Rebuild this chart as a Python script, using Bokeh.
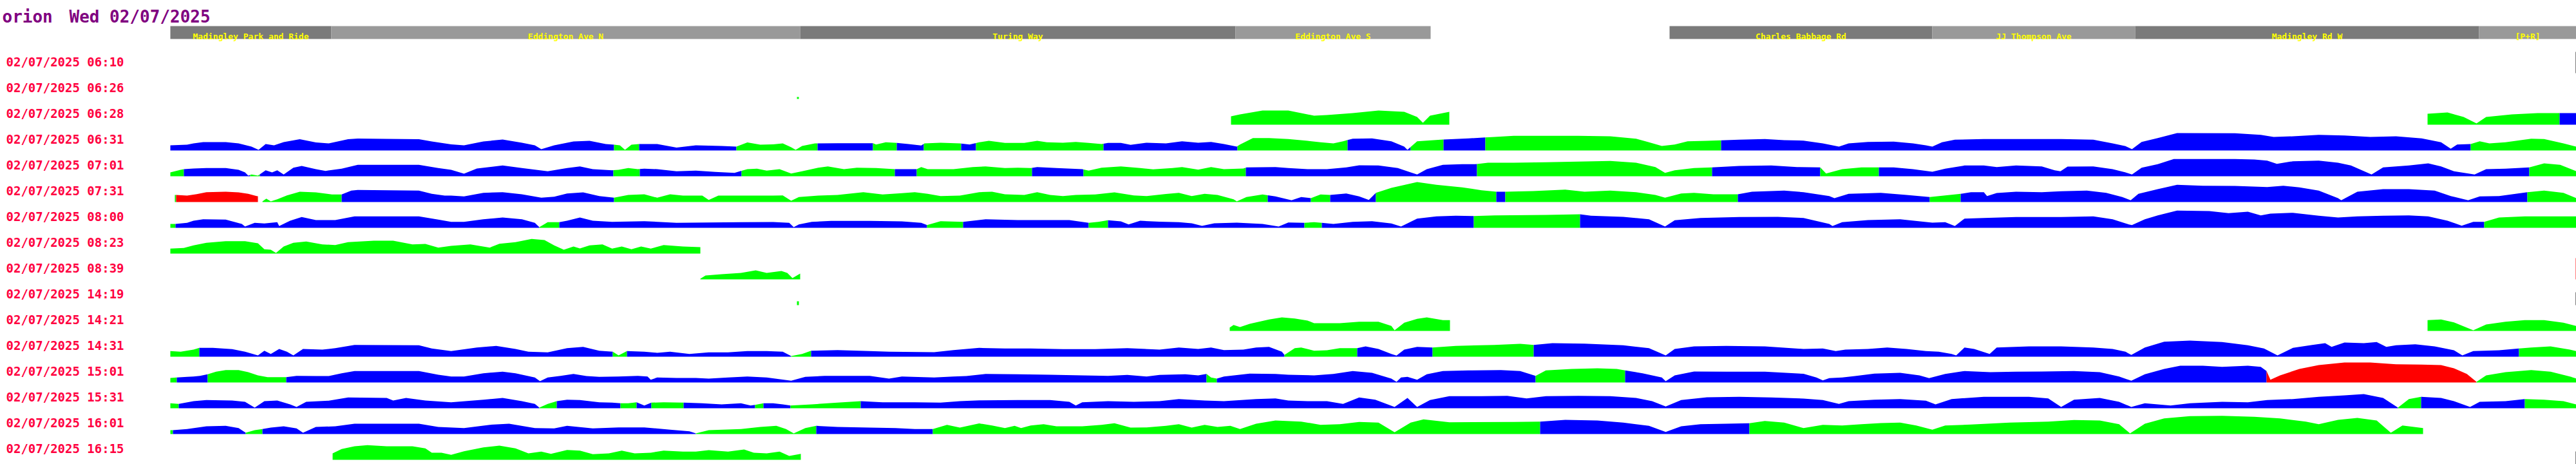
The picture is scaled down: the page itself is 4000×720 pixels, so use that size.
import numpy as np
from bokeh.plotting import figure
from bokeh.models import Range1d
from bokeh.embed import file_html
from bokeh.resources import INLINE
from bokeh.core.properties import value

TITLE_WORDS = ["orion", "Wed 02/07/2025"]

ROW_LABELS = ["02/07/2025 06:10", "02/07/2025 06:26", "02/07/2025 06:28", "02/07/2025 06:31",
              "02/07/2025 07:01", "02/07/2025 07:31", "02/07/2025 08:00", "02/07/2025 08:23",
              "02/07/2025 08:39", "02/07/2025 14:19", "02/07/2025 14:21", "02/07/2025 14:31",
              "02/07/2025 15:01", "02/07/2025 15:31", "02/07/2025 16:01", "02/07/2025 16:15"]

STOP_NAMES = ["Madingley Park and Ride", "Eddington Ave N", "Turing Way", "Eddington Ave S",
              "Charles Babbage Rd", "JJ Thompson Ave", "Madingley Rd W", "[P+R]"]
STOP_START = [264, 514, 1242, 1918, 2592, 3000, 3315, 3849]
STOP_END = [514, 1242, 1918, 2221, 3000, 3315, 3849, 4000]
STOP_SHADE = ["dark", "light", "dark", "light", "dark", "light", "dark", "light"]

# truncated marks at the right edge: (top, bottom, colour)
EDGE_MARKS = [(80, 113, "#000000"), (400, 433, "#ff0000"), (453, 473, "#000000"), (700, 720, "#000000")]

# ---- per-trip speed profiles: (route position, height) ----
PROF_0626 = [(1237, 3), (1240, 3)]
SEG_0626 = [(1237, 1240, "G")]

PROF_0628 = [(1911, 13), (1925, 16), (1960, 22), (2000, 22), (2040, 14), (2060, 15), (2100, 18),
             (2140, 22), (2180, 20), (2200, 12), (2209, 3), (2220, 14), (2250, 20),
             (3769, 17), (3800, 19), (3825, 12), (3845, 2), (3860, 12), (3900, 16), (3940, 18),
             (3974, 18), (4000, 18)]
SEG_0628 = [(1911, 2250, "G"), (3769, 3974, "G"), (3974, 4000, "B")]

PROF_0631 = [(264, 8), (290, 9), (300, 11), (315, 13), (350, 13), (370, 11), (390, 6), (401, 1), (412, 10),
             (425, 8), (440, 13), (465, 17.5), (490, 12.5), (510, 11), (540, 17.5), (555, 18.5), (600, 18),
             (650, 17.5), (670, 14), (700, 9.5), (720, 8), (750, 14), (780, 17), (810, 12), (830, 8), (840, 2),
             (860, 8), (890, 14), (915, 15), (940, 10), (953, 9), (962, 8), (970, 1), (980, 9), (993, 10),
             (1020, 10), (1050, 4.5), (1080, 8), (1120, 7), (1143, 6), (1160, 12.5), (1180, 9), (1200, 9.5),
             (1215, 11), (1228, 5), (1235, 1), (1245, 7), (1265, 11), (1300, 11.3), (1355, 11.3), (1360, 9.3),
             (1375, 12.7), (1392, 11.7), (1410, 10), (1430, 7.7), (1435, 11), (1460, 12), (1490, 11),
             (1505, 9.3), (1520, 12.7), (1535, 15), (1560, 11.7), (1590, 11.7), (1610, 15), (1625, 12.7),
             (1650, 12), (1670, 13.3), (1690, 11.7), (1710, 10), (1720, 11.7), (1740, 11.7), (1755, 8.7),
             (1780, 12), (1810, 11), (1835, 14.3), (1860, 12), (1880, 13.3), (1900, 10), (1920, 6), (1925, 9.3),
             (1945, 19.3), (1970, 19.3), (2000, 17.7), (2030, 15), (2050, 12.7), (2070, 11), (2085, 14.3),
             (2100, 18.3), (2130, 18.7), (2160, 14.3), (2180, 6), (2185, 1), (2200, 14.3), (2240, 17),
             (2280, 18.7), (2320, 21), (2350, 22.7), (2450, 22.7), (2500, 22), (2540, 18.3), (2560, 12.7),
             (2580, 7), (2600, 9.3), (2620, 14.3), (2650, 15), (2700, 16.7), (2740, 17.7), (2770, 16),
             (2800, 15.3), (2830, 11), (2855, 6), (2870, 11), (2900, 13.3), (2940, 13.7), (2970, 11), (2990, 8),
             (3000, 6), (3015, 12.7), (3035, 16.7), (3080, 17.7), (3200, 17.7), (3250, 16.7), (3280, 11),
             (3300, 6.7), (3310, 2), (3325, 13.3), (3350, 19.3), (3380, 27), (3470, 26.7), (3510, 24.3),
             (3530, 21), (3560, 22), (3600, 24.3), (3640, 23.3), (3680, 21), (3720, 22), (3760, 18.7),
             (3790, 12.7), (3805, 2.7), (3815, 9.3), (3836, 10), (3850, 14.3), (3865, 11), (3890, 12.7),
             (3930, 18.3), (3950, 17.7), (3980, 11), (4000, 6)]
SEG_0631 = [(264, 953, "B"), (953, 992, "G"), (992, 1143, "B"), (1143, 1269, "G"), (1269, 1355, "B"),
            (1355, 1392, "G"), (1392, 1434, "B"), (1434, 1492, "G"), (1492, 1515, "B"), (1515, 1713, "G"),
            (1713, 1921, "B"), (1921, 2092, "G"), (2092, 2190, "B"), (2190, 2241, "G"), (2241, 2306, "B"),
            (2306, 2672, "G"), (2672, 3836, "B"), (3836, 4000, "G")]

PROF_0701 = [(264, 6), (280, 10), (285, 11), (300, 12), (320, 12.7), (350, 12.7), (370, 10), (380, 6), (385, 1),
             (390, 2.7), (400, 1), (412, 9.3), (422, 6), (430, 9.3), (440, 2.7), (455, 13.3), (468, 16),
             (490, 11), (505, 8.3), (530, 11.7), (555, 17.7), (650, 17.7), (680, 12.7), (700, 10), (720, 4),
             (740, 12), (780, 16.7), (810, 12.7), (850, 7.7), (880, 12.7), (900, 15.3), (920, 11), (950, 9.3),
             (960, 10), (975, 12.7), (990, 11), (1000, 11.7), (1020, 11), (1050, 7.7), (1080, 8.7), (1110, 6.7),
             (1140, 5.3), (1160, 11), (1175, 11.7), (1190, 8.7), (1210, 11), (1228, 4.3), (1245, 7.7),
             (1270, 13.3), (1285, 15.3), (1310, 11), (1330, 13.3), (1360, 12.7), (1389, 11), (1423, 11),
             (1430, 14.3), (1440, 11), (1480, 11), (1510, 14.3), (1530, 15.3), (1560, 12.7), (1580, 13.3),
             (1600, 12.7), (1610, 14.3), (1640, 12.7), (1680, 11), (1690, 8.7), (1710, 13.3), (1740, 15.3),
             (1770, 12.7), (1790, 10.7), (1820, 12.7), (1835, 14.3), (1860, 10.3), (1880, 14.3), (1900, 11),
             (1930, 12), (1935, 13.7), (1980, 14.3), (2000, 12.7), (2030, 11), (2060, 11), (2090, 13.7),
             (2110, 17), (2140, 16.7), (2170, 12.7), (2190, 6), (2200, 2.7), (2215, 11), (2240, 17.7),
             (2270, 18.7), (2290, 18.7), (2310, 21), (2350, 21), (2400, 21.7), (2450, 22.7), (2500, 23.7),
             (2540, 21), (2570, 14.3), (2585, 5.3), (2600, 9.3), (2630, 12.7), (2658, 13.7), (2700, 16),
             (2750, 16.7), (2790, 14.3), (2826, 13.7), (2835, 4.3), (2860, 11), (2890, 13.7), (2940, 13.7),
             (2970, 11), (3000, 7), (3020, 11.7), (3050, 16.7), (3080, 16.7), (3100, 14.3), (3130, 16.7),
             (3170, 15.3), (3190, 9.3), (3199, 7.7), (3210, 15), (3250, 15.3), (3280, 11), (3300, 6),
             (3310, 2.7), (3325, 13.3), (3350, 18.7), (3375, 26.7), (3470, 26.7), (3500, 26), (3520, 24.3),
             (3535, 19.3), (3560, 23.3), (3600, 24.3), (3630, 21), (3650, 16.7), (3682, 2.7), (3700, 13.7),
             (3740, 16.7), (3770, 20), (3790, 15.3), (3810, 7.7), (3842, 2.7), (3860, 11), (3890, 11.7),
             (3927, 13.7), (3950, 20), (3975, 17.7), (4000, 7.7)]
SEG_0701 = [(264, 285, "G"), (285, 388, "B"), (388, 403, "G"), (403, 952, "B"), (952, 993, "G"),
            (993, 1151, "B"), (1151, 1389, "G"), (1389, 1423, "B"), (1423, 1602, "G"), (1602, 1682, "B"),
            (1682, 1934, "G"), (1934, 2293, "B"), (2293, 2658, "G"), (2658, 2826, "B"), (2826, 2917, "G"),
            (2917, 3927, "B"), (3927, 4000, "G")]

PROF_0731 = [(272, 11), (290, 10), (305, 12.3), (320, 15.3), (350, 16), (370, 15), (385, 12.7), (398, 9.3),
             (400, 9), (407, 1), (413, 5.3), (420, 1), (430, 4.3), (445, 10.3), (465, 16), (490, 15), (515, 11.7),
             (530, 11.7), (545, 17.7), (555, 18.7), (650, 17.7), (670, 12.7), (690, 10), (700, 10), (720, 8.7),
             (750, 14.3), (780, 15.3), (810, 12), (840, 6.7), (860, 8.3), (880, 13.3), (905, 15), (930, 9.3),
             (953, 6.7), (975, 11), (1000, 12), (1020, 6.7), (1040, 12), (1060, 10), (1090, 10), (1100, 3.3),
             (1115, 10), (1150, 10), (1180, 10), (1200, 10), (1215, 10.3), (1228, 2), (1240, 7.7), (1270, 10),
             (1300, 11), (1340, 15.3), (1370, 11.7), (1400, 13.7), (1420, 15.3), (1440, 12.7), (1460, 9.3),
             (1490, 10), (1520, 15.3), (1540, 16), (1560, 12), (1590, 11), (1610, 15.3), (1630, 11), (1650, 9.3),
             (1670, 11), (1700, 11.7), (1730, 15), (1760, 10.3), (1780, 9.3), (1810, 12.5), (1830, 14.3),
             (1850, 9.3), (1870, 12.7), (1890, 11), (1915, 4.3), (1920, 1), (1935, 7.7), (1960, 11.7),
             (1980, 8.7), (2005, 2.7), (2020, 7.7), (2035, 6), (2050, 11.7), (2065, 11), (2090, 13.3),
             (2110, 8.7), (2125, 3.3), (2136, 14.3), (2160, 22), (2190, 28.7), (2200, 31), (2230, 26.7),
             (2270, 22.7), (2300, 18.3), (2323, 16), (2337, 16), (2380, 17), (2430, 19.3), (2460, 16),
             (2500, 17.7), (2540, 15.3), (2570, 11), (2585, 6.7), (2610, 13.3), (2630, 14.3), (2660, 12),
             (2698, 12), (2720, 16), (2770, 17.7), (2800, 15.3), (2840, 9.3), (2848, 6), (2870, 12.7),
             (2920, 14.3), (2960, 11), (2996, 7.7), (3044, 12.7), (3060, 15.3), (3080, 15.3), (3085, 9.3),
             (3100, 14), (3130, 16), (3170, 15.3), (3200, 16.7), (3240, 17.7), (3270, 14.3), (3295, 7.7),
             (3308, 2.7), (3320, 12.7), (3350, 20), (3380, 26.7), (3420, 25.3), (3470, 25), (3520, 23.3),
             (3545, 25.3), (3570, 22.7), (3600, 17.7), (3630, 6), (3635, 2.7), (3660, 16), (3700, 20),
             (3740, 20), (3780, 17.7), (3805, 9.3), (3832, 2.7), (3850, 8.7), (3880, 9.3), (3924, 15.3),
             (3950, 17.7), (3980, 14.3), (4000, 6)]
SEG_0731 = [(271, 273, "G"), (273, 400, "R"), (407, 530, "G"), (530, 953, "B"), (953, 1968, "G"),
            (1968, 2035, "B"), (2035, 2065, "G"), (2065, 2136, "B"), (2136, 2323, "G"), (2323, 2337, "B"),
            (2337, 2698, "G"), (2698, 2996, "B"), (2996, 3044, "G"), (3044, 3924, "B"), (3924, 4000, "G")]

PROF_0800 = [(264, 6), (272, 6), (290, 7.7), (300, 11), (315, 13.3), (350, 12.7), (375, 6), (380, 2), (395, 7.7),
             (410, 6.7), (430, 8.7), (433, 2.7), (450, 11), (468, 16.7), (490, 12), (520, 12), (550, 17.7),
             (650, 17.7), (680, 12.7), (700, 9.3), (720, 9.3), (750, 13.3), (780, 16), (810, 13.3), (830, 7.7),
             (837, 1), (850, 8.7), (868, 8.7), (880, 11), (900, 16), (920, 11), (950, 9.3), (1000, 10.3),
             (1050, 7.7), (1100, 8.3), (1150, 8.7), (1200, 9), (1225, 7.7), (1232, 1), (1240, 5.3), (1260, 9.3),
             (1290, 10.7), (1350, 10.7), (1400, 10), (1430, 7.7), (1439, 4.3), (1460, 10.3), (1495, 9.3),
             (1530, 13.3), (1580, 12), (1660, 12), (1690, 7.7), (1705, 9.3), (1720, 11.7), (1740, 10),
             (1752, 5.3), (1770, 11), (1800, 9.5), (1830, 8.7), (1850, 7), (1866, 3), (1885, 7), (1920, 8),
             (1960, 6), (1985, 2), (2000, 8.3), (2025, 7.7), (2040, 8.7), (2052, 7.7), (2070, 6), (2100, 9.3),
             (2130, 10.3), (2160, 6.7), (2175, 2), (2200, 14.3), (2230, 17.7), (2260, 18.7), (2288, 18.3),
             (2320, 19.3), (2400, 20), (2453, 21), (2470, 18.7), (2520, 17), (2560, 13.3), (2585, 2),
             (2600, 11.7), (2640, 15.3), (2700, 16.7), (2760, 17), (2800, 15.3), (2840, 6), (2845, 2.7),
             (2860, 8.7), (2900, 12), (2950, 13.3), (3000, 8), (3020, 8.7), (3035, 2.7), (3050, 14.3),
             (3080, 15.3), (3130, 16.7), (3200, 16.7), (3250, 17.7), (3280, 13.3), (3305, 5.3), (3310, 4.3),
             (3330, 13.3), (3350, 19.3), (3380, 26.7), (3430, 26), (3460, 22.7), (3490, 25), (3510, 19.3),
             (3525, 22), (3560, 23.3), (3600, 18.7), (3630, 16), (3660, 17.7), (3700, 18.7), (3740, 19.3),
             (3770, 17.7), (3800, 11), (3822, 3.3), (3840, 9.3), (3857, 9.3), (3880, 16), (3920, 17.7),
             (4000, 17.7)]
SEG_0800 = [(264, 272, "G"), (272, 837, "B"), (837, 868, "G"), (868, 1439, "B"), (1439, 1495, "G"),
            (1495, 1690, "B"), (1690, 1720, "G"), (1720, 2025, "B"), (2025, 2052, "G"), (2052, 2288, "B"),
            (2288, 2453, "G"), (2453, 3857, "B"), (3857, 4000, "G")]

PROF_0823 = [(264, 7.7), (285, 8.7), (300, 12.7), (320, 16.7), (350, 19.3), (380, 19.3), (400, 16), (410, 6.7),
             (420, 6), (428, 1), (440, 11), (455, 16.7), (475, 18.7), (500, 14.3), (520, 13.3), (540, 17.7),
             (580, 20), (610, 20), (640, 14.3), (660, 15), (680, 9.3), (700, 12), (730, 14.3), (760, 9.3),
             (775, 15.3), (800, 17.7), (825, 22.7), (845, 21), (860, 12.7), (875, 6), (890, 11), (900, 8),
             (915, 12.7), (935, 14.3), (950, 7.7), (965, 11), (980, 6.7), (995, 11), (1010, 7.7), (1030, 13.3),
             (1060, 11), (1087, 10)]
SEG_0823 = [(264, 1087, "G")]

PROF_0839 = [(1087, 1), (1095, 6), (1120, 8), (1150, 10), (1173, 14), (1190, 10), (1213, 13), (1222, 10),
             (1230, 2), (1242, 9)]
SEG_0839 = [(1087, 1242, "G")]

PROF_1419 = [(1237, 6), (1240, 6)]
SEG_1419 = [(1237, 1240, "G")]

PROF_1421 = [(1909, 5.3), (1915, 9.3), (1925, 6), (1940, 11), (1970, 17.7), (1990, 21), (2010, 19.3),
             (2030, 16), (2040, 12), (2080, 12), (2110, 14.3), (2140, 14.3), (2160, 7.7), (2165, 1),
             (2180, 12.7), (2200, 18.7), (2215, 21), (2240, 16.7), (2251, 16.7),
             (3769, 16.7), (3790, 17.7), (3810, 13.3), (3840, 1), (3860, 10), (3890, 14.3), (3920, 16.7),
             (3950, 16.7), (3980, 12.7), (4000, 7.7)]
SEG_1421 = [(1909, 2251, "G"), (3769, 4000, "G")]

PROF_1431 = [(264, 8.7), (280, 7.7), (300, 11), (309, 13.7), (330, 13.7), (360, 11.7), (380, 7.7), (400, 2),
             (410, 9.3), (420, 4.3), (433, 12), (445, 7.7), (455, 2), (470, 12), (500, 11), (520, 13.3),
             (550, 18.3), (650, 17.7), (670, 12.7), (700, 8.7), (740, 14.3), (770, 16.7), (800, 12), (820, 7.7),
             (850, 6.7), (880, 13.3), (905, 15.3), (930, 9.3), (951, 7.7), (960, 2), (973, 8.7), (1000, 7.7),
             (1020, 6), (1040, 7.7), (1070, 4.3), (1100, 6.7), (1130, 6.7), (1160, 8.7), (1190, 8.7),
             (1215, 7.7), (1228, 1), (1245, 4.3), (1259, 9.3), (1300, 10.3), (1350, 8.7), (1380, 7.7),
             (1450, 7), (1480, 10.3), (1520, 13.7), (1560, 12.7), (1600, 12.7), (1650, 11.7), (1700, 11.7),
             (1750, 13.3), (1800, 11), (1830, 14.3), (1860, 12), (1880, 14.3), (1900, 10.3), (1930, 11),
             (1950, 14.3), (1970, 15.3), (1990, 7.7), (1994, 2.7), (2010, 13.3), (2020, 14.3), (2040, 9.3),
             (2060, 10), (2080, 13.3), (2107, 13.3), (2120, 16), (2140, 12), (2160, 4.3), (2168, 1.7),
             (2180, 11), (2200, 15.3), (2224, 14.3), (2260, 16.7), (2320, 18.3), (2360, 20), (2381, 18.3),
             (2410, 21), (2460, 20.3), (2520, 17.7), (2560, 13.3), (2586, 2), (2600, 12), (2630, 16),
             (2680, 16.7), (2740, 16), (2800, 12), (2830, 12.7), (2850, 8.7), (2865, 11), (2900, 12),
             (2930, 14.3), (2960, 12), (2990, 8.7), (3010, 7.7), (3030, 4.3), (3037, 2), (3050, 14.3),
             (3065, 12), (3089, 4.3), (3100, 14.3), (3150, 16), (3200, 16), (3250, 14.3), (3280, 12),
             (3300, 7.7), (3309, 2.7), (3330, 14.3), (3360, 23.3), (3400, 25), (3450, 22.7), (3490, 17.7),
             (3515, 12.7), (3536, 2), (3560, 13.7), (3590, 18.3), (3610, 21), (3620, 15.3), (3640, 22),
             (3670, 21), (3690, 22.7), (3705, 15.3), (3720, 17.7), (3750, 19.3), (3780, 16), (3810, 10),
             (3823, 2), (3840, 8.7), (3880, 10), (3911, 12.7), (3930, 14.3), (3960, 16), (3990, 11),
             (4000, 8.7)]
SEG_1431 = [(264, 309, "G"), (309, 951, "B"), (951, 973, "G"), (973, 1228, "B"), (1228, 1259, "G"),
            (1259, 1994, "B"), (1994, 2107, "G"), (2107, 2224, "B"), (2224, 2381, "G"), (2381, 3911, "B"),
            (3911, 4000, "G")]

PROF_1501 = [(264, 7), (274, 7.7), (290, 8.7), (300, 9.3), (310, 10.3), (322, 12.7), (335, 16.7), (350, 19.3),
             (370, 19.3), (385, 16), (400, 11), (415, 8.3), (444, 8.3), (460, 10.3), (490, 10), (510, 10),
             (530, 14.3), (550, 17.7), (650, 17.7), (680, 12), (700, 9.3), (720, 9.3), (750, 14.3), (780, 16.7),
             (800, 14.3), (830, 7.7), (838, 2), (850, 7.7), (870, 10.3), (890, 13.3), (910, 10), (930, 8.7),
             (960, 9.3), (990, 10.3), (1005, 9.3), (1010, 4.3), (1020, 7.7), (1050, 7), (1080, 7), (1100, 6),
             (1130, 7.7), (1160, 9.3), (1190, 7.7), (1228, 2.7), (1250, 8.7), (1280, 10.3), (1350, 10.3),
             (1380, 6), (1400, 9.3), (1450, 7.7), (1480, 9.3), (1500, 10), (1530, 13.3), (1580, 12.7),
             (1630, 12), (1680, 11), (1720, 10.3), (1750, 11.7), (1780, 9.3), (1800, 11.7), (1840, 12.7),
             (1860, 11), (1873, 13.3), (1880, 7.7), (1889, 6), (1900, 9.3), (1940, 13.7), (1980, 13.3),
             (2000, 12), (2040, 11), (2070, 13.3), (2100, 17.7), (2130, 15), (2160, 6), (2168, 1), (2175, 7.7),
             (2185, 8.7), (2200, 4.3), (2215, 12.7), (2240, 17.7), (2280, 18.7), (2330, 19.3), (2360, 17.7),
             (2384, 10.3), (2400, 18.7), (2440, 21), (2480, 22), (2510, 21), (2523, 18.7), (2550, 14.3),
             (2580, 7.7), (2586, 2), (2600, 11), (2630, 17), (2680, 16.7), (2740, 16.7), (2800, 13.5),
             (2820, 7.7), (2830, 3.3), (2840, 6.7), (2860, 7.7), (2880, 10), (2910, 13.7), (2950, 15),
             (2980, 11), (2995, 6.7), (3020, 13.3), (3050, 17.7), (3090, 16), (3130, 16.7), (3170, 17),
             (3220, 17.7), (3260, 16), (3290, 9.3), (3309, 2.7), (3330, 12.7), (3360, 21), (3385, 26),
             (3420, 26), (3450, 24.3), (3490, 26), (3510, 24.3), (3519, 17.7), (3525, 4.3), (3540, 11),
             (3570, 21), (3600, 27), (3640, 31), (3680, 31), (3720, 28.3), (3760, 27.7), (3790, 27), (3810, 22),
             (3830, 13.3), (3845, 1), (3860, 11), (3890, 16), (3930, 19.3), (3960, 16.7), (3990, 9.3),
             (4000, 6)]
SEG_1501 = [(264, 274, "G"), (274, 322, "B"), (322, 444, "G"), (444, 1873, "B"), (1873, 1889, "G"),
            (1889, 2384, "B"), (2384, 2523, "G"), (2523, 3519, "B"), (3519, 3845, "R"), (3845, 4000, "G")]

PROF_1531 = [(264, 7.7), (277, 6.7), (300, 11), (320, 12.7), (360, 12), (380, 10), (395, 1), (410, 11), (430, 12),
             (450, 6), (460, 2), (475, 10), (510, 11.7), (540, 16.7), (600, 16), (610, 12), (630, 16), (660, 12),
             (700, 9.3), (750, 13.3), (780, 16), (810, 11), (830, 6.7), (837, 1), (850, 6.7), (864, 11),
             (880, 13.3), (900, 12.7), (930, 9.3), (950, 8.7), (963, 7.7), (975, 7.7), (988, 9.3), (1000, 4.3),
             (1011, 8.7), (1030, 9.3), (1060, 8.7), (1090, 7.7), (1120, 6), (1150, 7.7), (1165, 4.3),
             (1172, 5.3), (1185, 7.7), (1200, 7.7), (1215, 6), (1227, 4.3), (1260, 6), (1300, 8.7), (1336, 11),
             (1370, 9.3), (1420, 9.3), (1460, 8.7), (1490, 11), (1520, 12.3), (1580, 12.7), (1630, 12.7),
             (1660, 10), (1670, 4.3), (1680, 9.3), (1720, 11), (1760, 10), (1800, 11), (1830, 14.3), (1870, 12),
             (1900, 11), (1950, 14.3), (1980, 15.3), (2000, 12), (2030, 11), (2060, 11), (2085, 6.7),
             (2110, 16.7), (2135, 13.3), (2165, 2), (2185, 16), (2200, 2), (2220, 12.7), (2250, 18.7),
             (2300, 18.7), (2340, 19.3), (2370, 15.3), (2400, 18.7), (2450, 19.3), (2500, 18.7), (2540, 16),
             (2565, 11), (2586, 2.7), (2610, 12.7), (2650, 17), (2700, 17.7), (2750, 16.7), (2800, 15),
             (2830, 12.7), (2855, 6.7), (2870, 11), (2910, 13.3), (2950, 14.3), (2990, 11.7), (3005, 6),
             (3030, 14.3), (3080, 17.7), (3150, 17.7), (3180, 15.3), (3200, 2), (3220, 13.3), (3260, 16),
             (3290, 10), (3309, 2), (3330, 7.7), (3370, 4.3), (3400, 7.7), (3450, 10), (3490, 9.3), (3520, 12.7),
             (3560, 14.3), (3600, 17.7), (3640, 20), (3670, 22), (3700, 16), (3723, 1), (3740, 14.3),
             (3759, 17.7), (3790, 16), (3810, 11), (3835, 2), (3850, 10), (3890, 11), (3920, 14.3),
             (3950, 13.3), (3980, 11), (4000, 6)]
SEG_1531 = [(264, 277, "G"), (277, 837, "B"), (837, 864, "G"), (864, 963, "B"), (963, 988, "G"),
            (988, 1011, "B"), (1011, 1061, "G"), (1061, 1172, "B"), (1172, 1185, "G"), (1185, 1227, "B"),
            (1227, 1336, "G"), (1336, 3723, "B"), (3723, 3759, "G"), (3759, 3920, "B"), (3920, 4000, "G")]

PROF_1601 = [(264, 6), (268, 6), (290, 7.7), (320, 12), (350, 12.7), (370, 9.3), (381, 2), (395, 6), (407, 7.7),
             (420, 10), (440, 12), (460, 8.7), (470, 2), (490, 11), (520, 12), (550, 16), (650, 16), (680, 11),
             (720, 9.3), (760, 14.3), (790, 16), (830, 9.3), (860, 8.7), (880, 12.7), (920, 8.7), (960, 10.3),
             (1000, 10.3), (1040, 6.7), (1070, 4.3), (1080, 1), (1100, 6), (1150, 7.7), (1180, 11),
             (1205, 12.7), (1220, 7.7), (1232, 1), (1250, 9.3), (1267, 12.7), (1300, 11), (1350, 10),
             (1390, 9.3), (1420, 7.7), (1448, 7.7), (1470, 14.3), (1490, 10), (1520, 16.5), (1540, 13.3),
             (1560, 9.3), (1575, 12.7), (1585, 9.3), (1600, 13.3), (1620, 15.3), (1640, 12), (1680, 12),
             (1710, 14.3), (1730, 16.7), (1755, 10), (1780, 10.3), (1810, 12.7), (1830, 15.3), (1850, 10),
             (1870, 14.3), (1890, 11), (1910, 12.7), (1925, 7.7), (1950, 16), (1980, 21), (2020, 19.3),
             (2050, 14.3), (2080, 15.3), (2110, 18.7), (2140, 17.7), (2165, 2.7), (2190, 17.7), (2210, 22.7),
             (2250, 18.3), (2350, 18.7), (2391, 19.3), (2430, 22), (2480, 21), (2520, 17.7), (2560, 12.7),
             (2586, 3.3), (2610, 12), (2640, 15.3), (2680, 16), (2716, 16.7), (2740, 20.3), (2770, 17.7),
             (2800, 9.3), (2830, 14.3), (2860, 13.3), (2890, 15.3), (2920, 17), (2950, 17.7), (2975, 13.3),
             (3000, 6.7), (3020, 13.3), (3060, 14.7), (3120, 17.7), (3180, 19.3), (3220, 21.7), (3260, 21),
             (3290, 15.3), (3307, 1), (3330, 16), (3360, 24.3), (3400, 27.7), (3450, 28.3), (3500, 26.7),
             (3540, 24.3), (3580, 19.3), (3600, 15.3), (3630, 22), (3660, 25), (3690, 21), (3712, 2),
             (3730, 13.3), (3762, 9.3)]
SEG_1601 = [(264, 268, "G"), (268, 381, "B"), (381, 407, "G"), (407, 1080, "B"), (1080, 1267, "G"),
            (1267, 1448, "B"), (1448, 2391, "G"), (2391, 2716, "B"), (2716, 3762, "G")]

PROF_1615 = [(516, 10), (530, 16.7), (550, 21), (570, 22.7), (600, 21), (640, 21), (660, 17.7), (670, 11),
             (685, 11), (700, 7.7), (720, 13.3), (750, 19.3), (775, 22), (800, 17.7), (820, 10), (840, 12.7),
             (855, 9.3), (880, 15.3), (900, 14.3), (920, 8.7), (945, 10), (965, 14.3), (985, 10), (1010, 11),
             (1030, 14.3), (1060, 12.7), (1080, 12.7), (1100, 15), (1130, 12.7), (1155, 16), (1170, 11),
             (1190, 10), (1210, 12.7), (1225, 6), (1243, 9.3)]
SEG_1615 = [(516, 1243, "G")]

ROW_DATA = [None, (PROF_0626, SEG_0626), (PROF_0628, SEG_0628), (PROF_0631, SEG_0631),
            (PROF_0701, SEG_0701), (PROF_0731, SEG_0731), (PROF_0800, SEG_0800), (PROF_0823, SEG_0823),
            (PROF_0839, SEG_0839), (PROF_1419, SEG_1419), (PROF_1421, SEG_1421), (PROF_1431, SEG_1431),
            (PROF_1501, SEG_1501), (PROF_1531, SEG_1531), (PROF_1601, SEG_1601), (PROF_1615, SEG_1615)]

# ---- styles / layout ----
COLORS = {"G": "#00ff00", "B": "#0000ff", "R": "#ff0000"}
SHADES = {"dark": "#7a7a7a", "light": "#999999"}
ROW_TOP0, ROW_STEP, BASE_OFF = 80, 40, 33
MONO = value("DejaVu Sans Mono")

p = figure(width=4000, height=720, x_range=Range1d(0, 4000), y_range=Range1d(720, 0),
           output_backend="svg", toolbar_location=None, min_border=0,
           x_axis_location=None, y_axis_location=None)
p.grid.visible = False
p.outline_line_color = None
p.background_fill_color = "white"
p.border_fill_color = "white"

# header (stop names)
p.quad(left=STOP_START, right=STOP_END, top=40, bottom=60,
       fill_color=[SHADES[s] for s in STOP_SHADE], line_color=None)
p.text(x=[(a + b) / 2 for a, b in zip(STOP_START, STOP_END)], y=[55.5] * len(STOP_NAMES), text=STOP_NAMES,
       text_font=MONO, text_font_style="bold", text_font_size="13px", text_color="#ffff00",
       text_align="center", text_baseline="alphabetic")

# title
p.text(x=[3, 107], y=[25.5, 25.5], text=TITLE_WORDS, text_font=MONO, text_font_style="bold",
       text_font_size="26px", text_color="#800080", text_baseline="alphabetic")

# row labels
p.text(x=[9] * len(ROW_LABELS), y=[ROW_TOP0 + 15 + ROW_STEP * i for i in range(len(ROW_LABELS))],
       text=ROW_LABELS, text_font=MONO, text_font_style="bold", text_font_size="19px",
       text_color="#ff0040", text_baseline="alphabetic")

# profile areas
pxs, pys, pcs = [], [], []
for i, rd in enumerate(ROW_DATA):
    if rd is None:
        continue
    prof, segs = rd
    arr = np.array(prof, dtype=float)
    px, ph = arr[:, 0], arr[:, 1]
    base = ROW_TOP0 + ROW_STEP * i + BASE_OFF
    for x0, x1, c in segs:
        inner = px[(px > x0) & (px < x1)]
        xs = np.concatenate([[x0], inner, [x1]])
        hs = np.interp(xs, px, ph)
        pxs.append(list(xs) + [x1, x0])
        pys.append(list(base - hs) + [base, base])
        pcs.append(COLORS[c])
p.patches(xs=pxs, ys=pys, fill_color=pcs, line_color=None)

# edge marks
p.segment(x0=[3999.5] * len(EDGE_MARKS), x1=[3999.5] * len(EDGE_MARKS),
          y0=[m[0] for m in EDGE_MARKS], y1=[m[1] for m in EDGE_MARKS],
          line_color=[m[2] for m in EDGE_MARKS], line_width=1)

open("out.html", "w").write(file_html(p, INLINE))
